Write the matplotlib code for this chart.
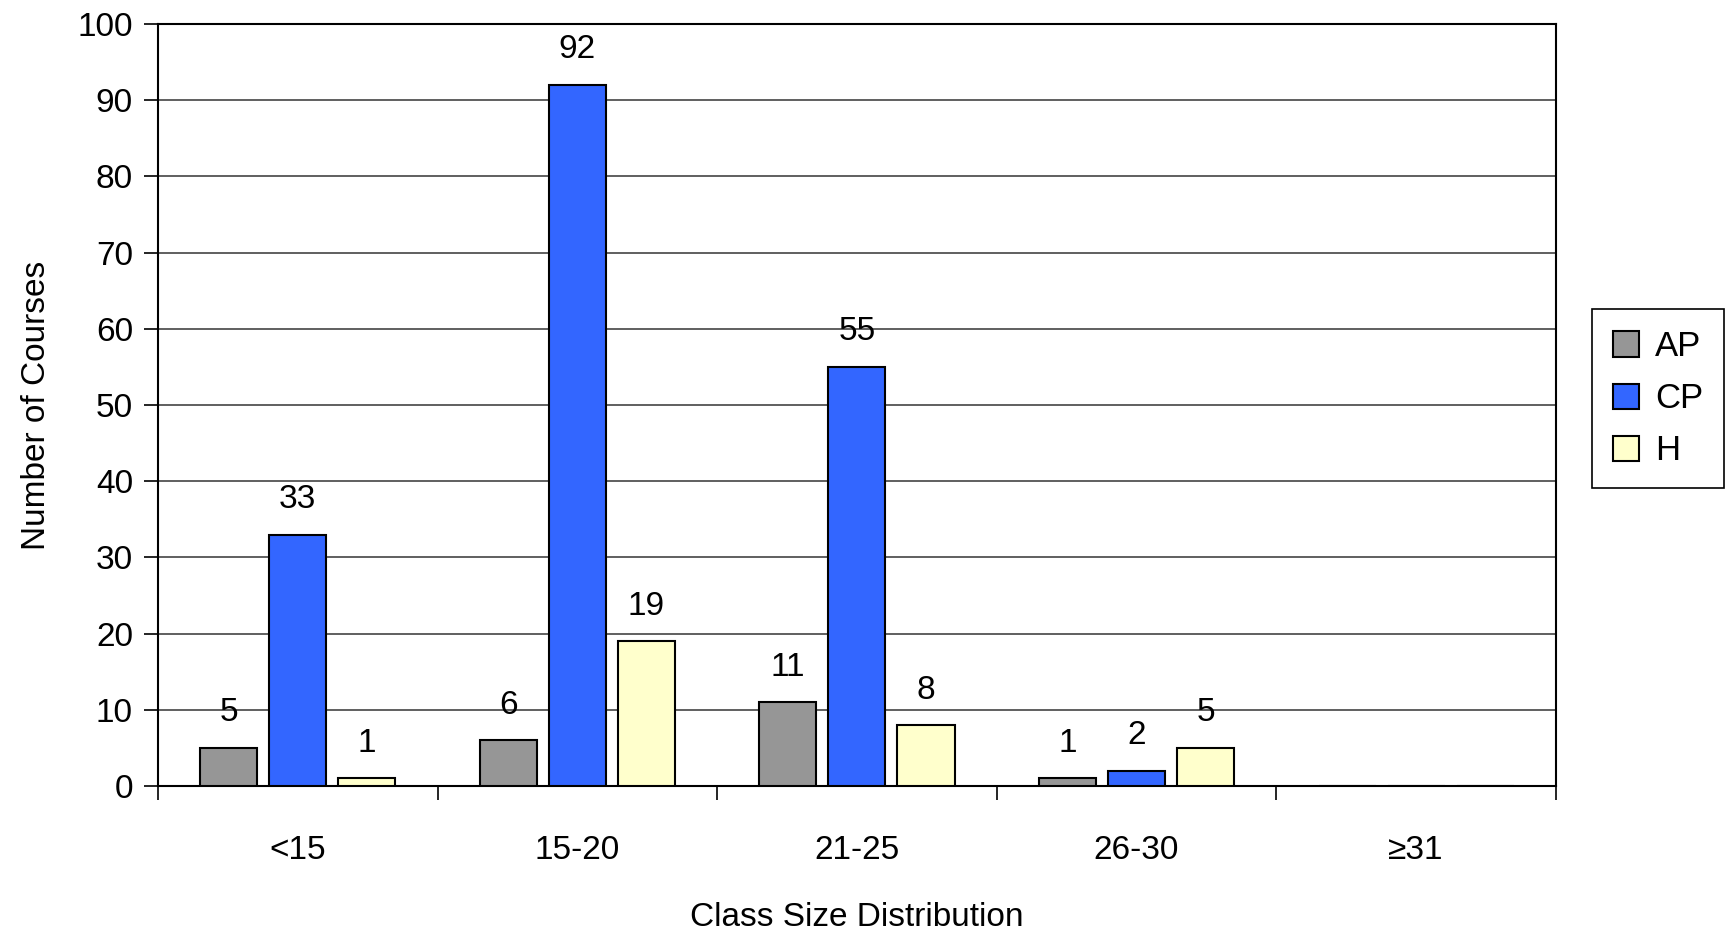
import matplotlib.pyplot as plt
import numpy as np

categories = ['<15', '15-20', '21-25', '26-30', '≥31']
ap = [5, 6, 11, 1, 0]
cp = [33, 92, 55, 2, 0]
h = [1, 19, 8, 5, 0]
series = [('AP', ap, '#969696'), ('CP', cp, '#3366FF'), ('H', h, '#FFFFCC')]

plt.rcParams['font.family'] = ['Liberation Sans', 'DejaVu Sans']
plt.rcParams['font.size'] = 24

fig = plt.figure(figsize=(17.3, 9.33), dpi=100)
ax = fig.add_axes([0.0913, 0.1576, 0.8081, 0.8167])

x = np.arange(len(categories))
width = 0.204
step = 0.247
for i, (name, vals, color) in enumerate(series):
    pos = x + (i - 1) * step
    bars = ax.bar(pos, vals, width, color=color, edgecolor='black', linewidth=1.5, label=name, zorder=3)
    for b, v in zip(bars, vals):
        if v > 0:
            ax.annotate(str(v), (b.get_x() + b.get_width() / 2, v), xytext=(0, 14),
                        textcoords='offset points', ha='center', va='bottom')

ax.set_xlim(-0.5, len(categories) - 0.5)
ax.set_ylim(0, 100)
ax.set_yticks(range(0, 101, 10))
ax.yaxis.grid(True, color='#444444', linewidth=1.2, zorder=0)
ax.set_axisbelow(True)

# boundary ticks between groups, labels centred under each group
ax.set_xticks(np.arange(-0.5, len(categories)), minor=False)
ax.set_xticklabels([])
ax.set_xticks(x, minor=True)
ax.set_xticklabels(categories, minor=True)
ax.tick_params(axis='x', which='major', length=10, width=1.2, direction='out')
ax.tick_params(axis='x', which='minor', length=0, pad=35)
ax.tick_params(axis='y', length=10, width=1.2, direction='out', pad=8)

for s in ax.spines.values():
    s.set_linewidth(1.5)

ax.set_xlabel('Class Size Distribution', labelpad=26)
ax.set_ylabel('Number of Courses', labelpad=18)

leg = fig.legend(loc='center', bbox_to_anchor=(0.9585, 0.5725), frameon=True, fancybox=False,
                 edgecolor='black', framealpha=1, fontsize=25, handlelength=0.75, handleheight=0.75,
                 handletextpad=0.45, labelspacing=0.55, borderpad=0.6, borderaxespad=0)
leg.get_frame().set_linewidth(1.2)

fig.savefig('out.png', dpi=100)
